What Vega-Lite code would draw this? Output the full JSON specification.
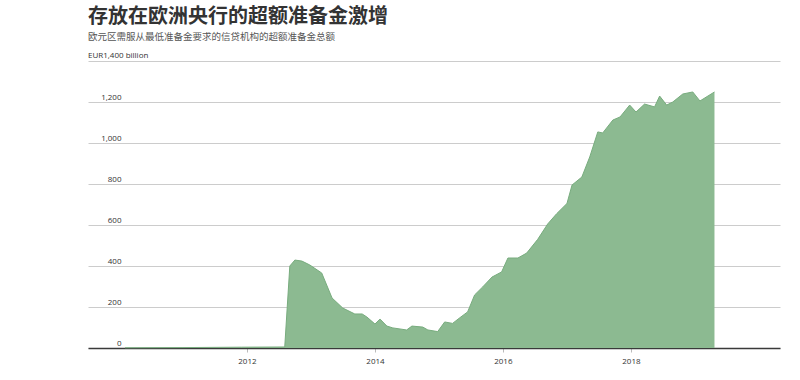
{
  "$schema": "https://vega.github.io/schema/vega-lite/v6.json",
  "width": 692,
  "height": 287,
  "autosize": "none",
  "padding": {"left": 88, "top": 61, "right": 20, "bottom": 32},
  "background": "white",
  "view": {"stroke": null},
  "title": {
    "text": "存放在欧洲央行的超额准备金激增",
    "subtitle": "欧元区需服从最低准备金要求的信贷机构的超额准备金总额",
    "anchor": "start",
    "frame": "group",
    "font": "Noto Sans CJK SC",
    "fontSize": 20,
    "fontWeight": "bold",
    "color": "#333333",
    "subtitleFont": "Noto Sans CJK SC",
    "subtitleFontSize": 9.5,
    "subtitleColor": "#555555",
    "subtitlePadding": 5,
    "offset": 11
  },
  "data": {
    "values": [
      {"date": "2010-02-04", "reserves": 1},
      {"date": "2011-01-01", "reserves": 2},
      {"date": "2011-12-01", "reserves": 4},
      {"date": "2012-08-04", "reserves": 5},
      {"date": "2012-09-02", "reserves": 400},
      {"date": "2012-10-01", "reserves": 429},
      {"date": "2012-11-10", "reserves": 424},
      {"date": "2012-12-25", "reserves": 405},
      {"date": "2013-03-03", "reserves": 366},
      {"date": "2013-05-01", "reserves": 244},
      {"date": "2013-07-01", "reserves": 195},
      {"date": "2013-09-08", "reserves": 166},
      {"date": "2013-10-20", "reserves": 166},
      {"date": "2013-11-16", "reserves": 151},
      {"date": "2014-01-01", "reserves": 117},
      {"date": "2014-01-30", "reserves": 141},
      {"date": "2014-03-10", "reserves": 107},
      {"date": "2014-04-13", "reserves": 98},
      {"date": "2014-07-01", "reserves": 88},
      {"date": "2014-07-31", "reserves": 107},
      {"date": "2014-10-01", "reserves": 102},
      {"date": "2014-10-30", "reserves": 88},
      {"date": "2014-12-25", "reserves": 80},
      {"date": "2015-02-03", "reserves": 127},
      {"date": "2015-03-20", "reserves": 120},
      {"date": "2015-05-01", "reserves": 148},
      {"date": "2015-06-14", "reserves": 176},
      {"date": "2015-07-24", "reserves": 259},
      {"date": "2015-09-08", "reserves": 298},
      {"date": "2015-10-31", "reserves": 346},
      {"date": "2015-12-25", "reserves": 371},
      {"date": "2016-01-30", "reserves": 439},
      {"date": "2016-03-27", "reserves": 439},
      {"date": "2016-05-16", "reserves": 463},
      {"date": "2016-07-18", "reserves": 530},
      {"date": "2016-09-13", "reserves": 605},
      {"date": "2016-11-03", "reserves": 655},
      {"date": "2017-01-01", "reserves": 705},
      {"date": "2017-01-30", "reserves": 795},
      {"date": "2017-03-27", "reserves": 834},
      {"date": "2017-05-11", "reserves": 932},
      {"date": "2017-06-26", "reserves": 1054},
      {"date": "2017-07-24", "reserves": 1049},
      {"date": "2017-09-20", "reserves": 1112},
      {"date": "2017-10-31", "reserves": 1127},
      {"date": "2017-12-25", "reserves": 1185},
      {"date": "2018-01-30", "reserves": 1151},
      {"date": "2018-03-20", "reserves": 1190},
      {"date": "2018-05-16", "reserves": 1176},
      {"date": "2018-06-14", "reserves": 1229},
      {"date": "2018-07-24", "reserves": 1185},
      {"date": "2018-08-28", "reserves": 1200},
      {"date": "2018-10-24", "reserves": 1239},
      {"date": "2018-12-20", "reserves": 1249},
      {"date": "2019-01-30", "reserves": 1205},
      {"date": "2019-04-23", "reserves": 1249}
    ]
  },
  "layer": [
    {
      "mark": {
        "type": "area",
        "color": "#8cba91",
        "opacity": 1,
        "line": {"color": "#78ac7e", "strokeWidth": 1}
      },
      "encoding": {
        "x": {
          "field": "date",
          "type": "temporal",
          "scale": {"domain": ["2009-07-08", "2020-05-01"]},
          "axis": {
            "title": null,
            "values": [{"year": 2012}, {"year": 2014}, {"year": 2016}, {"year": 2018}],
            "format": "%Y",
            "grid": false,
            "domainColor": "#3a3a3a",
            "domainWidth": 1.5,
            "tickColor": "#bbbbbb",
            "tickSize": 4,
            "labelFont": "Open Sans",
            "labelFontSize": 8,
            "labelColor": "#333333",
            "labelPadding": 5
          }
        },
        "y": {
          "field": "reserves",
          "type": "quantitative",
          "scale": {"domain": [0, 1400], "nice": false},
          "axis": {
            "title": null,
            "values": [0, 200, 400, 600, 800, 1000, 1200, 1400],
            "labelExpr": "datum.value == 1400 ? '' : format(datum.value, ',')",
            "domain": false,
            "ticks": false,
            "grid": true,
            "gridColor": "#cccccc",
            "gridWidth": 1,
            "labelAlign": "right",
            "labelBaseline": "alphabetic",
            "labelOffset": -3,
            "labelPadding": -33,
            "labelFont": "Open Sans",
            "labelFontSize": 8,
            "labelColor": "#333333"
          }
        }
      }
    },
    {
      "data": {"values": [{}]},
      "mark": {
        "type": "text",
        "align": "left",
        "baseline": "alphabetic",
        "dy": -3,
        "font": "Open Sans",
        "fontSize": 8,
        "color": "#333333"
      },
      "encoding": {
        "x": {"datum": {"year": 2009, "month": 7, "date": 8}, "type": "temporal"},
        "y": {"datum": 1400, "type": "quantitative"},
        "text": {"value": "EUR1,400  billion"}
      }
    }
  ]
}
